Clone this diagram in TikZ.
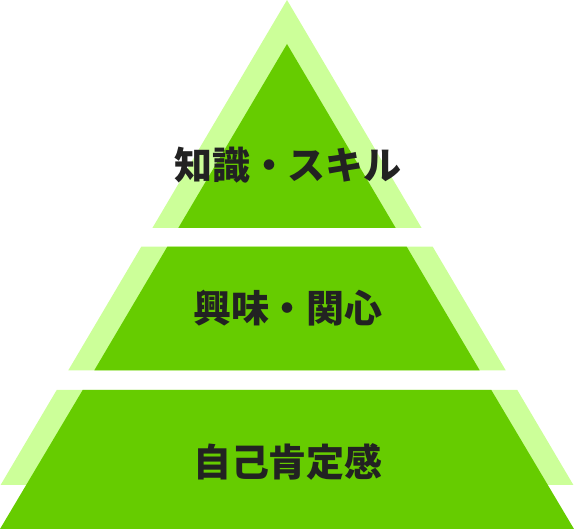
\documentclass[tikz,border=0pt]{standalone}
\usepackage{fontspec}
\usepackage{tikz}
\usetikzlibrary{positioning}
\newfontfamily\jpfont{Noto Sans CJK JP}
\definecolor{tierlight}{HTML}{CCFF99}
\definecolor{tierdark}{HTML}{66CC00}
\definecolor{tiertext}{HTML}{222222}
\begin{document}
\begin{tikzpicture}[x=1pt,y=1pt,
                outer/.style={fill=tierlight},
                inner/.style={fill=tierdark},
                label/.style={text=tiertext, font=\jpfont\bfseries\fontsize{38pt}{38pt}\selectfont, inner sep=0pt}]
            \useasboundingbox (0,0) rectangle (574,529);
            % top tier
            \fill[outer] (287,529) -- (421.6,301) -- (152.4,301) -- cycle;
            \fill[inner] (287,485) -- (395.7,301) -- (178.3,301) -- cycle;
            % middle tier
            \fill[outer] (141.3,282.3) -- (432.7,282.3) -- (505.7,158.7) -- (68.3,158.7) -- cycle;
            \fill[inner] (167.3,282.3) -- (406.7,282.3) -- (479.7,158.7) -- (94.3,158.7) -- cycle;
            % bottom tier
            \fill[outer] (56.7,139) -- (517.3,139) -- (573.4,44) -- (0.6,44) -- cycle;
            \fill[inner] (82.7,139) -- (491.3,139) -- (574,0) -- (0,0) -- cycle;
            % labels
            \node[label] (skill) at (288,364) {知識・スキル};
            \node[label] (interest) at (288,221) {興味・関心};
            \node[label] (esteem) at (288,67) {自己肯定感};
        \end{tikzpicture}
\end{document}
